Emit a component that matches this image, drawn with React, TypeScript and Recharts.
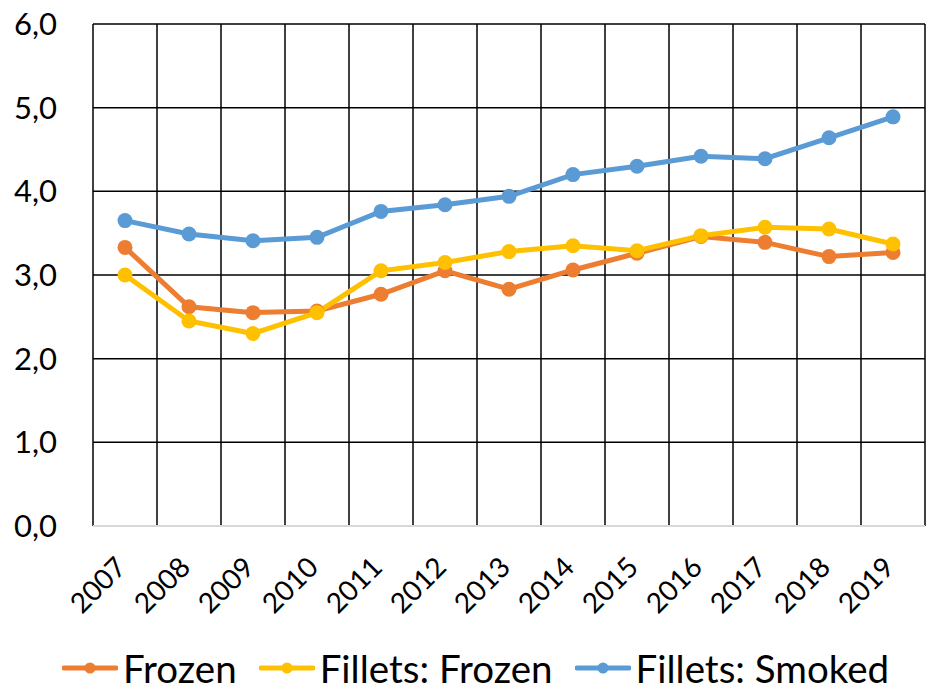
import React from 'react';
import { LineChart, Line, XAxis, YAxis, CartesianGrid, Legend } from 'recharts';

const years = ['2007', '2008', '2009', '2010', '2011', '2012', '2013', '2014', '2015', '2016', '2017', '2018', '2019'];
const frozen = [3.33, 2.62, 2.55, 2.57, 2.77, 3.05, 2.83, 3.06, 3.26, 3.46, 3.39, 3.22, 3.27];
const filletsFrozen = [3.0, 2.45, 2.3, 2.55, 3.05, 3.15, 3.28, 3.35, 3.29, 3.47, 3.57, 3.55, 3.37];
const filletsSmoked = [3.65, 3.49, 3.41, 3.45, 3.76, 3.84, 3.94, 4.2, 4.3, 4.42, 4.39, 4.64, 4.89];
const yTicks = [0, 1, 2, 3, 4, 5, 6];

const seriesInfo = [
  { key: 'frozen', name: 'Frozen', color: '#ED7D31' },
  { key: 'filletsFrozen', name: 'Fillets: Frozen', color: '#FFC000' },
  { key: 'filletsSmoked', name: 'Fillets: Smoked', color: '#5B9BD5' },
];

const data = years.map((y, i) => ({
  year: y,
  frozen: frozen[i],
  filletsFrozen: filletsFrozen[i],
  filletsSmoked: filletsSmoked[i],
}));

const FONT = 'Lato, "Open Sans", sans-serif';

const YTick = (props: any) => {
  const { y, payload } = props;
  return (
    <text x={57} y={y} dy="0.35em" textAnchor="end" fontFamily={FONT} fontSize={31} fill="#000">
      {payload.value.toFixed(1).replace('.', ',')}
    </text>
  );
};

const XTick = (props: any) => {
  const { x, y, payload } = props;
  const ax = x + 3;
  const ay = y + 35;
  return (
    <text
      x={ax}
      y={ay}
      textAnchor="end"
      transform={`rotate(-45 ${ax} ${ay})`}
      fontFamily={FONT}
      fontSize={28}
      fill="#000"
    >
      {payload.value}
    </text>
  );
};

const LegendContent = () => (
  <div
    style={{
      display: 'flex',
      alignItems: 'center',
      height: 60,
      paddingTop: 10,
      boxSizing: 'border-box',
      marginLeft: 62,
      fontFamily: FONT,
      fontSize: 38.5,
      color: '#000',
      whiteSpace: 'nowrap',
    }}
  >
    {seriesInfo.map((s, i) => (
      <div key={s.key} style={{ display: 'flex', alignItems: 'center', marginRight: i < 2 ? 22 : 0 }}>
        <svg width={56} height={14} style={{ marginRight: 5 }}>
          <line x1={2} y1={7} x2={54} y2={7} stroke={s.color} strokeWidth={5} strokeLinecap="round" />
          <circle cx={28} cy={7} r={5.5} fill={s.color} />
        </svg>
        <span style={{ lineHeight: '40px' }}>{s.name}</span>
      </div>
    ))}
  </div>
);

export default function App() {
  return (
    <div style={{ position: 'absolute', left: 0, top: 0, width: 933, height: 693, background: '#fff' }}>
      <LineChart width={933} height={693} data={data} margin={{ top: 24, right: 8, left: 0, bottom: 0 }}>
        <CartesianGrid
          stroke="#000"
          strokeWidth={1.5}
          verticalCoordinatesGenerator={({ offset }: any) =>
            Array.from({ length: years.length + 1 }, (_, i) => offset.left + (i * offset.width) / years.length)
          }
        />
        <XAxis
          dataKey="year"
          scale="band"
          height={107}
          interval={0}
          tickLine={false}
          axisLine={{ stroke: '#D9D9D9', strokeWidth: 2 }}
          tick={<XTick />}
        />
        <YAxis
          width={93}
          domain={[0, 6]}
          ticks={yTicks}
          axisLine={false}
          tickLine={false}
          tick={<YTick />}
        />
        <Legend verticalAlign="bottom" height={60} content={<LegendContent />} />
        {seriesInfo.map((s) => (
          <Line
            key={s.key}
            type="linear"
            dataKey={s.key}
            name={s.name}
            stroke={s.color}
            strokeWidth={5}
            dot={{ r: 7.5, fill: s.color, stroke: 'none' }}
            activeDot={false}
            isAnimationActive={false}
          />
        ))}
      </LineChart>
    </div>
  );
}
